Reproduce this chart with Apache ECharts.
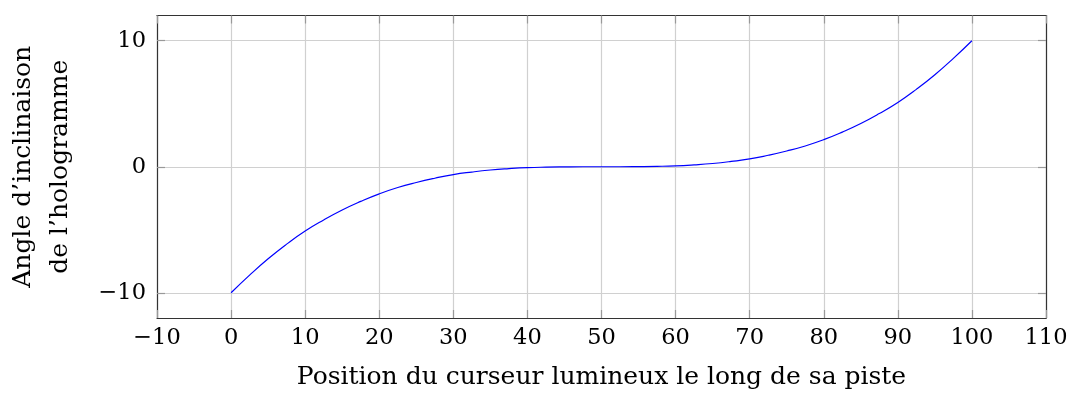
<!DOCTYPE html>
<html>
<head>
<meta charset="utf-8">
<script src="https://cdn.jsdelivr.net/npm/echarts@6/dist/echarts.min.js"></script>
<style>html,body{margin:0;padding:0;background:#fff;}#c{width:1070px;height:394px;}</style>
</head>
<body>
<div id="c"></div>
<script>
const xValues = [0, 2.5, 5, 7.5, 10, 12.5, 15, 17.5, 20, 22.5, 25, 27.5, 30, 32.5, 35, 37.5, 40, 42.5, 45, 47.5, 50, 52.5, 55, 57.5, 60, 62.5, 65, 67.5, 70, 72.5, 75, 77.5, 80, 82.5, 85, 87.5, 90, 92.5, 95, 97.5, 100];
const yValues = [-10, -8.6, -7.3, -6.14, -5.1, -4.22, -3.43, -2.75, -2.15, -1.65, -1.25, -0.91, -0.62, -0.42, -0.26, -0.15, -0.07, -0.03, -0.01, 0, 0, 0, 0.01, 0.03, 0.07, 0.15, 0.26, 0.42, 0.62, 0.91, 1.25, 1.65, 2.15, 2.75, 3.43, 4.22, 5.1, 6.14, 7.3, 8.6, 10];
const xTicks = [-10, 0, 10, 20, 30, 40, 50, 60, 70, 80, 90, 100, 110];
const yTicks = [-10, 0, 10];
const xTitle = 'Position du curseur lumineux le long de sa piste';
const yTitle = 'Angle d\u2019inclinaison\nde l\u2019hologramme';

const FONT = 'DejaVu Serif';
const fmt = v => (v < 0 ? '\u2212' + Math.abs(v) : String(v));
const chart = echarts.init(document.getElementById('c'), null, {renderer: 'canvas'});
const axisLine = {show: true, onZero: false, lineStyle: {color: '#333', width: 1.2}};
const tick = {show: true, inside: true, length: 8, lineStyle: {color: '#999', width: 1.2}};
chart.setOption({
  animation: false,
  grid: {left: 157, right: 24, top: 15.5, bottom: 76, containLabel: false, outerBoundsMode: 'none'},
  xAxis: [{
    type: 'value', min: -10, max: 110, position: 'bottom',
    axisLine: axisLine,
    axisTick: Object.assign({customValues: xTicks}, tick),
    axisLabel: {customValues: xTicks, formatter: fmt, fontFamily: FONT, fontSize: 22.5, color: '#000', margin: 9},
    splitLine: {show: true, lineStyle: {color: '#d0d0d0', width: 1.2}},
    name: xTitle, nameLocation: 'middle', nameGap: 47,
    nameTextStyle: {fontFamily: FONT, fontSize: 25, color: '#000'}
  }, {
    type: 'value', min: -10, max: 110, position: 'top',
    axisLine: axisLine,
    axisTick: Object.assign({customValues: xTicks}, tick),
    axisLabel: {show: false}, splitLine: {show: false}
  }],
  yAxis: [{
    type: 'value', min: -12, max: 12, position: 'left',
    axisLine: axisLine,
    axisTick: Object.assign({customValues: yTicks}, tick),
    axisLabel: {customValues: yTicks, formatter: fmt, fontFamily: FONT, fontSize: 22.5, color: '#000', margin: 11},
    splitLine: {show: true, lineStyle: {color: '#d0d0d0', width: 1.2}},
    name: yTitle, nameLocation: 'middle', nameGap: 78, nameRotate: 90,
    nameTextStyle: {fontFamily: FONT, fontSize: 25, color: '#000', lineHeight: 37, align: 'center'}
  }, {
    type: 'value', min: -12, max: 12, position: 'right',
    axisLine: axisLine,
    axisTick: Object.assign({customValues: yTicks}, tick),
    axisLabel: {show: false}, splitLine: {show: false}
  }],
  series: [{
    type: 'line',
    data: xValues.map((x, i) => [x, yValues[i]]),
    smooth: true, showSymbol: false,
    lineStyle: {color: '#0000ff', width: 1.2}
  }]
});
</script>
</body>
</html>
